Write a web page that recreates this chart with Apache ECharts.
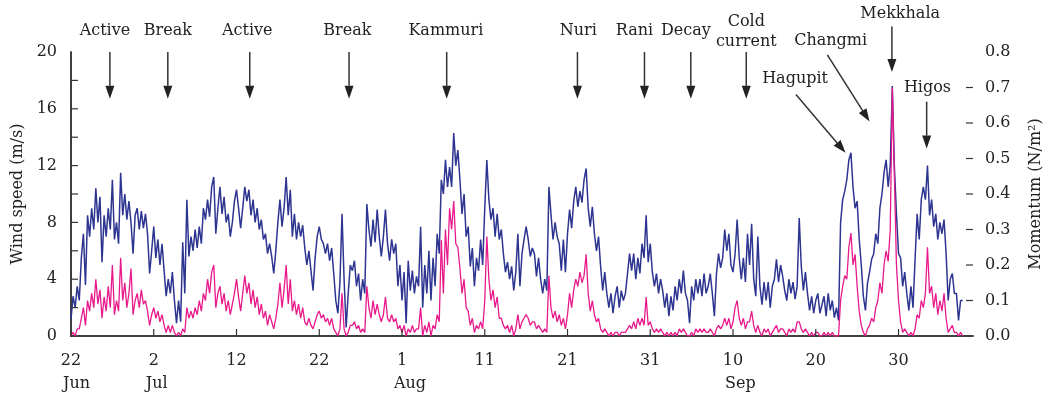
<!DOCTYPE html>
<html><head><meta charset="utf-8">
<script src="https://cdn.jsdelivr.net/npm/echarts@6/dist/echarts.min.js"></script>
<style>html,body{margin:0;padding:0;background:#fff}#c{width:1052px;height:395px}</style>
</head><body><div id="c"></div>
<script>
// x axis: days since 22 Jun; tick labels every 10 days
const xTickLabels = {0:'22',10:'2',20:'12',30:'22',40:'1',50:'11',60:'21',70:'31',80:'10',90:'20',100:'30'};
const monthLabels = [[0,'Jun'],[10,'Jul'],[40,'Aug'],[80,'Sep']];
const samplesPerDay = 4; // 6-hourly values
// wind speed (m/s), 4 values per day from 22 Jun
const windSpeed = [
1.2,2.8,2.0,3.5, 2.5,5.5,7.2,3.6, 8.5,7.0,9.0,7.5, 10.4,8.0,9.8,5.2, 8.5,7.0,9.0,7.5,
11.0,6.8,8.0,6.5, 11.5,8.5,10.0,8.2, 9.5,8.0,5.8,8.5, 9.0,7.5,8.8,7.6, 8.6,7.2,4.4,6.0,
7.7,5.5,6.8,5.0, 6.5,4.6,2.8,4.0, 3.0,4.5,2.5,0.9, 2.5,1.0,6.6,3.0, 9.6,5.6,7.0,6.0,
7.5,6.2,7.7,6.5, 9.0,8.2,9.6,8.4, 10.5,11.2,7.2,9.0, 10.5,8.6,9.8,8.0, 8.6,7.0,8.0,9.5,
10.3,9.0,7.6,9.0, 10.5,9.5,10.3,8.5, 9.6,8.0,9.0,7.5, 8.2,6.8,7.2,5.8, 6.5,5.6,4.4,6.0,
8.0,9.6,7.7,9.0, 11.2,8.5,10.3,7.0, 8.6,6.8,8.0,7.0, 7.8,6.2,5.0,6.0, 4.6,3.2,5.5,7.0,
7.7,6.8,6.5,5.8, 6.5,5.3,6.2,4.4, 2.5,1.6,3.8,8.6, 4.0,0.6,3.0,5.0, 4.6,5.3,3.5,4.4,
2.5,4.0,3.0,9.3, 7.5,6.3,8.2,6.6, 8.9,7.0,5.6,7.0, 8.9,6.5,5.3,6.8, 5.8,6.5,3.5,5.0,
2.5,4.5,0.9,5.3, 3.2,4.6,3.0,4.2, 3.5,7.7,2.0,5.0, 3.0,6.0,2.5,5.5, 3.5,7.2,5.8,11.0,
10.0,12.4,10.5,11.9, 10.5,14.3,12.0,13.1, 11.0,8.6,10.0,7.0, 7.7,4.9,6.2,3.5, 5.5,4.6,6.8,5.0,
9.0,12.4,9.6,8.2, 9.0,7.0,8.6,6.8, 7.5,5.8,4.5,5.2, 4.0,4.9,3.2,4.5, 7.2,3.5,5.8,6.8,
7.7,6.8,5.6,6.2, 5.8,4.2,5.5,4.0, 3.0,4.0,3.2,10.5, 8.6,6.8,8.0,7.0, 6.5,4.6,6.8,4.5,
7.2,8.9,7.6,9.5, 10.5,9.1,10.2,9.4, 11.0,11.8,9.0,7.7, 9.1,7.2,6.0,7.0, 4.9,3.2,4.5,3.0,
2.0,3.0,1.6,2.8, 3.5,2.0,3.2,2.5, 3.0,4.4,5.8,4.6, 5.8,4.0,5.5,4.4, 6.5,5.5,8.5,5.2,
6.5,4.5,3.5,4.4, 3.0,4.0,3.2,2.0, 3.0,1.4,2.8,1.8, 3.5,2.5,4.0,3.0, 4.6,3.0,2.5,0.9,
3.5,2.5,4.0,3.0, 4.0,2.8,4.4,3.0, 3.5,4.4,3.0,1.4, 4.4,5.8,4.8,5.5, 7.5,6.0,7.2,5.0,
4.5,5.8,8.2,5.5, 4.0,5.5,3.8,7.2, 5.0,7.9,4.0,2.8, 7.0,3.5,2.2,3.8, 2.5,3.8,2.0,3.5,
4.0,5.4,3.8,5.0, 4.2,3.2,2.5,4.0, 3.0,3.8,2.6,3.5, 8.3,4.9,3.2,4.5, 3.0,1.8,2.8,1.6,
2.5,3.0,1.6,2.2, 2.8,1.4,3.0,1.8, 2.5,1.3,2.0,1.1, 8.0,9.6,10.2,11.0, 12.4,12.9,10.5,9.0,
9.5,6.8,5.0,2.8, 1.8,3.7,4.5,5.4, 5.8,7.2,6.5,9.0, 10.0,11.5,12.4,10.5, 12.0,17.6,11.9,8.6,
5.8,5.5,3.5,4.5, 3.0,1.8,3.5,2.0, 5.4,8.6,6.8,9.6, 10.5,9.6,12.0,8.5, 9.6,7.7,8.6,6.8,
8.0,7.2,8.2,5.8, 2.5,4.0,4.4,3.0, 3.0,1.1,2.5,2.5
];
// momentum flux (N/m2), 4 values per day from 22 Jun
const momentum = [
0.0,0.01,0.0,0.02, 0.02,0.05,0.08,0.03, 0.1,0.07,0.12,0.08, 0.16,0.09,0.13,0.05, 0.11,0.07,0.14,0.08,
0.2,0.06,0.1,0.07, 0.22,0.1,0.15,0.08, 0.12,0.19,0.06,0.1, 0.12,0.08,0.13,0.09, 0.1,0.07,0.03,0.06,
0.08,0.05,0.07,0.04, 0.06,0.03,0.01,0.03, 0.01,0.03,0.01,0.0, 0.01,0.0,0.02,0.01, 0.08,0.05,0.07,0.05,
0.08,0.06,0.1,0.07, 0.12,0.1,0.16,0.12, 0.18,0.2,0.08,0.12, 0.14,0.09,0.12,0.07, 0.1,0.06,0.09,0.12,
0.16,0.11,0.07,0.12, 0.17,0.12,0.15,0.09, 0.13,0.08,0.11,0.06, 0.09,0.05,0.07,0.03, 0.06,0.04,0.02,0.05,
0.09,0.15,0.08,0.13, 0.2,0.09,0.16,0.07, 0.1,0.06,0.09,0.05, 0.08,0.04,0.03,0.05, 0.03,0.02,0.04,0.06,
0.07,0.05,0.06,0.04, 0.05,0.03,0.05,0.02, 0.01,0.0,0.02,0.12, 0.02,0.0,0.01,0.03, 0.03,0.04,0.02,0.03,
0.01,0.02,0.01,0.14, 0.08,0.05,0.1,0.06, 0.09,0.06,0.04,0.06, 0.11,0.05,0.04,0.06, 0.04,0.05,0.02,0.03,
0.01,0.03,0.0,0.02, 0.01,0.03,0.01,0.02, 0.02,0.08,0.0,0.03, 0.01,0.04,0.0,0.03, 0.02,0.06,0.04,0.27,
0.12,0.3,0.2,0.36, 0.3,0.38,0.26,0.25, 0.19,0.12,0.16,0.08, 0.07,0.03,0.05,0.01, 0.03,0.02,0.04,0.02,
0.1,0.28,0.16,0.1, 0.13,0.08,0.11,0.05, 0.05,0.03,0.02,0.03, 0.01,0.03,0.0,0.02, 0.06,0.02,0.04,0.05,
0.06,0.05,0.03,0.04, 0.04,0.02,0.03,0.02, 0.01,0.02,0.01,0.17, 0.08,0.05,0.07,0.04, 0.06,0.03,0.05,0.02,
0.06,0.12,0.08,0.13, 0.16,0.14,0.18,0.15, 0.17,0.23,0.12,0.07, 0.1,0.06,0.04,0.05, 0.02,0.01,0.02,0.01,
0.0,0.01,0.0,0.01, 0.01,0.0,0.01,0.01, 0.01,0.02,0.03,0.02, 0.04,0.02,0.05,0.03, 0.05,0.03,0.11,0.03,
0.04,0.02,0.01,0.02, 0.01,0.02,0.01,0.0, 0.01,0.0,0.01,0.0, 0.01,0.0,0.02,0.01, 0.02,0.01,0.0,0.0,
0.01,0.0,0.02,0.01, 0.02,0.01,0.02,0.01, 0.01,0.02,0.01,0.0, 0.02,0.03,0.02,0.03, 0.05,0.03,0.05,0.02,
0.04,0.08,0.1,0.05, 0.03,0.05,0.02,0.04, 0.04,0.07,0.03,0.01, 0.03,0.01,0.0,0.02, 0.01,0.02,0.0,0.01,
0.02,0.03,0.01,0.02, 0.02,0.01,0.0,0.02, 0.01,0.02,0.01,0.04, 0.04,0.02,0.01,0.02, 0.01,0.0,0.01,0.0,
0.01,0.01,0.0,0.0, 0.01,0.0,0.01,0.0, 0.01,0.0,0.0,0.0, 0.1,0.14,0.17,0.16, 0.25,0.29,0.2,0.23,
0.14,0.07,0.03,0.01, 0.0,0.02,0.03,0.05, 0.04,0.08,0.1,0.15, 0.12,0.2,0.24,0.21, 0.3,0.7,0.45,0.2,
0.1,0.04,0.01,0.02, 0.01,0.0,0.01,0.0, 0.02,0.06,0.05,0.1, 0.08,0.12,0.25,0.12, 0.14,0.08,0.12,0.06,
0.1,0.07,0.12,0.05, 0.01,0.02,0.03,0.01, 0.01,0.0,0.01,0.0
];
// tick positions (drawn inward)
const xTicks = [0,10,20,30,40,50,60,70,80,90,100];
const windTicks = [2,4,6,8,10,12,14,16,18];
const momTicks = [0.1,0.2,0.3,0.4,0.5,0.6,0.7];
// vertical event arrows: [label lines, arrow day, label day]
const topEvents = [
  [['Active'], 4.7, 4.1], [['Break'], 11.7, 11.7], [['Active'], 21.6, 21.3], [['Break'], 33.6, 33.4],
  [['Kammuri'], 45.4, 45.3], [['Nuri'], 61.2, 61.3], [['Rani'], 69.3, 68.1], [['Decay'], 74.9, 74.3],
  [['Cold','current'], 81.6, 81.6]
];
// typhoon callouts: [label, labelDay, labelValue, fromDay, fromValue, toDay, toValue]
const typhoons = [
  ['Hagupit', 87.5, 18.1, 87.6, 17.0, 93.6, 12.9],
  ['Changmi', 91.8, 20.8, 91.4, 19.8, 96.5, 15.1],
  ['Mekkhala', 100.2, 22.7, 99.2, 21.8, 99.2, 18.6],
  ['Higos', 103.5, 17.5, 103.4, 16.5, 103.4, 13.2]
];

const FONT = '"DejaVu Serif", "Liberation Serif", serif';
const axisCol = '#333';
const chart = echarts.init(document.getElementById('c'), null, {renderer:'canvas'});
const windData = windSpeed.map((v,i)=>[i/samplesPerDay, v]);
const momData = momentum.map((v,i)=>[i/samplesPerDay, v]);
const axLine = {show:true, lineStyle:{color:axisCol, width:1.5}};

chart.setOption({
  animation:false,
  backgroundColor:'#fff',
  grid:{left:71, right:77, top:52, bottom:59},
  xAxis:[{
    type:'value', min:0, max:109, interval:10,
    axisLine:axLine, axisTick:{show:false},
    axisLabel:{formatter:v=>xTickLabels[v]||'', fontFamily:FONT, fontSize:16, color:'#222', margin:17},
    splitLine:{show:false}
  },{
    type:'value', position:'top', min:0, max:109,
    axisLine:axLine, axisTick:{show:false}, axisLabel:{show:false}, splitLine:{show:false}
  }],
  yAxis:[{
    type:'value', min:0, max:20, interval:2, position:'left',
    name:'Wind speed (m/s)', nameLocation:'middle', nameGap:43, nameRotate:90,
    nameTextStyle:{fontFamily:FONT, fontSize:16, color:'#222'},
    axisLine:axLine, axisTick:{show:false},
    axisLabel:{formatter:v=>(v%4===0?String(v):''), fontFamily:FONT, fontSize:16, color:'#222', margin:14},
    splitLine:{show:false}
  },{
    type:'value', min:0, max:0.8, interval:0.1, position:'right',
    name:'Momentum (N/m²)', nameLocation:'middle', nameGap:55, nameRotate:90,
    nameTextStyle:{fontFamily:FONT, fontSize:16, color:'#222'},
    axisLine:axLine, axisTick:{show:false},
    axisLabel:{formatter:v=>v.toFixed(1), fontFamily:FONT, fontSize:16, color:'#222', margin:12},
    splitLine:{show:false}
  }],
  series:[{
    type:'line', name:'Wind speed', data:windData, xAxisIndex:0, yAxisIndex:0,
    showSymbol:false, lineStyle:{color:'#2d3591', width:1.5}, itemStyle:{color:'#2d3591'}, z:2
  },{
    type:'line', name:'Momentum', data:momData, xAxisIndex:0, yAxisIndex:1,
    showSymbol:false, lineStyle:{color:'#e8198b', width:1.3}, itemStyle:{color:'#e8198b'}, z:3
  }]
});

function px(d,v){return chart.convertToPixel({xAxisIndex:0, yAxisIndex:0},[d,v]);}
function pxM(d,m){return chart.convertToPixel({xAxisIndex:0, yAxisIndex:1},[d,m]);}
const g = [];
function seg(x1,y1,x2,y2,w){g.push({type:'line', shape:{x1,y1,x2,y2}, style:{stroke:axisCol, lineWidth:w}, z:9});}
function arrow(p0,p1){
  const dx=p1[0]-p0[0], dy=p1[1]-p0[1], L=Math.hypot(dx,dy), ux=dx/L, uy=dy/L;
  const hl=13, hw=4.5;
  const bx=p1[0]-ux*hl, by=p1[1]-uy*hl;
  g.push({type:'line', shape:{x1:p0[0],y1:p0[1],x2:bx,y2:by}, style:{stroke:'#333', lineWidth:1.5}, z:10});
  g.push({type:'polygon', shape:{points:[[p1[0],p1[1]],[bx-uy*hw,by+ux*hw],[bx+uy*hw,by-ux*hw]]}, style:{fill:'#222'}, z:10});
}
function label(text,x,y,align){
  g.push({type:'text', x:x, y:y, style:{text:text, font:'16px '+FONT, fill:'#222', align:align||'center', verticalAlign:'middle', textAlign:align||'center', textVerticalAlign:'middle'}, z:10});
}
const topPx = px(0,20)[1];
const botPx = px(0,0)[1];
const leftPx = px(0,0)[0];
const rightPx = px(109,0)[0];
const TL = 7;
xTicks.forEach(d=>{const x=px(d,0)[0]; seg(x,botPx,x,botPx-TL,1.2);});
windTicks.forEach(v=>{const y=px(0,v)[1]; seg(leftPx,y,leftPx+TL,y,1.2);});
momTicks.forEach(m=>{const y=pxM(0,m)[1]; seg(rightPx,y,rightPx-TL,y,1.2);});
topEvents.forEach(e=>{
  const p0=px(e[1],20), p1=px(e[1],16.7);
  arrow(p0,p1);
  const lx=px(e[2],0)[0];
  if(e[0].length===1) label(e[0][0], lx, topPx-21);
  else { label(e[0][0], lx, topPx-30); label(e[0][1], lx, topPx-10); }
});
typhoons.forEach(t=>{
  const l=px(t[1],t[2]); label(t[0], l[0], l[1]);
  arrow(px(t[3],t[4]), px(t[5],t[6]));
});
monthLabels.forEach(m=>{
  const x=px(m[0],0)[0];
  label(m[1], x-8, botPx+48, 'left');
});
chart.setOption({graphic:g});
</script></body></html>
